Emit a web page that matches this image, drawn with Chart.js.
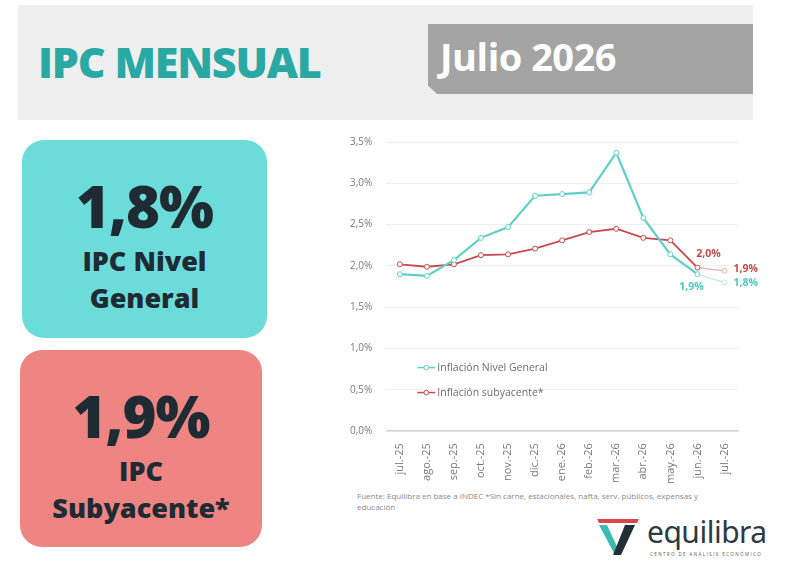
<!DOCTYPE html>
<html>
<head>
<meta charset="utf-8">
<script src="https://cdn.jsdelivr.net/npm/chart.js@4.4.1/dist/chart.umd.min.js"></script>
<style>
  body { margin:0; width:800px; height:575px; background:#fff; font-family:"Open Sans", sans-serif; position:relative; overflow:hidden; }
  .band { position:absolute; left:18px; top:5px; width:735px; height:115px; background:#efefef; }
  .title { position:absolute; left:38px; top:32px; font-size:43px; font-weight:800; color:#2aa9a4; letter-spacing:-1.2px; }
  .month { position:absolute; left:428px; top:24px; width:325px; height:70px; background:#a4a4a4;
           clip-path:polygon(0 0,100% 0,100% 100%,9px 100%,0 88%); }
  .month span { position:absolute; left:12px; top:6px; font-size:38px; font-weight:700; color:#fff; letter-spacing:-0.5px; }
  .card { position:absolute; border-radius:22px; text-align:center; color:#1e2b33; font-weight:800; }
  .card .big { font-size:58px; line-height:60px; letter-spacing:-1px; }
  .card .lbl { font-size:27px; line-height:37px; }
  .c1 { left:22px; top:140px; width:245px; height:198px; background:#6cdcdb; }
  .c2 { left:20px; top:350px; width:242px; height:197px; background:#ee8583; }
  .chartbox { position:absolute; left:336px; top:122px; width:434px; height:366px; }
  .note { position:absolute; left:357px; top:490px; width:410px; font-size:8px; line-height:11px; color:#8a8a8a; }
  .logo { position:absolute; left:595px; top:515px; }
  .logo .word { position:absolute; left:52px; top:-4px; font-size:30px; color:#2d3a42; font-family:"Noto Sans", sans-serif; letter-spacing:-0.5px; }
  .logo .sub { position:absolute; left:55px; top:36px; font-size:4.5px; letter-spacing:1.4px; color:#555; white-space:nowrap; }
</style>
</head>
<body>
<div class="band"></div>
<div class="title">IPC MENSUAL</div>
<div class="month"><span>Julio 2026</span></div>

<div class="card c1">
  <div class="big" style="margin-top:36px">1,8%</div>
  <div class="lbl" style="margin-top:6px">IPC Nivel<br>General</div>
</div>
<div class="card c2">
  <div class="big" style="margin-top:36px">1,9%</div>
  <div class="lbl" style="margin-top:6px">IPC<br>Subyacente*</div>
</div>

<div class="chartbox"><canvas id="ipc"></canvas></div>
<div class="note">Fuente: Equilibra en base a INDEC *Sin carne, estacionales, nafta, serv. públicos, expensas y<br>educación</div>

<div class="logo">
  <svg width="50" height="42" viewBox="0 0 50 42">
    <polygon points="2,4 44,4 42,8 4,8" fill="#d9474a"/>
    <polygon points="4,10 12,10 24,36 20,40" fill="#3dbab5"/>
    <polygon points="30,10 40,10 26,40 18,40" fill="#243038"/>
  </svg>
  <div class="word">equilibra</div>
  <div class="sub">CENTRO DE ANÁLISIS ECONÓMICO</div>
</div>

<script>
var months = ["jul.-25","ago.-25","sep.-25","oct.-25","nov.-25","dic.-25","ene.-26","feb.-26","mar.-26","abr.-26","may.-26","jun.-26","jul.-26"];
var general = [1.90, 1.88, 2.07, 2.34, 2.47, 2.85, 2.87, 2.89, 3.37, 2.58, 2.14, 1.90, 1.80];
var core    = [2.02, 1.99, 2.02, 2.13, 2.14, 2.21, 2.31, 2.41, 2.45, 2.34, 2.31, 1.98, 1.94];
var seriesNames = ["Inflación Nivel General", "Inflación subyacente*"];

var teal = "#5fd0c9", tealFade = "#b9e6e3";
var red = "#c94a4c", redFade = "#e6b0b1";

function pct(v) { return v.toFixed(1).replace(".", ",") + "%"; }

// labels on the last two points + legend drawn inside the plot
var extras = {
  id: "extras",
  afterDatasetsDraw: function(chart) {
    var ctx = chart.ctx;
    var g = chart.getDatasetMeta(0).data, c = chart.getDatasetMeta(1).data;
    var n = months.length;
    ctx.save();
    ctx.font = "bold 10.5px 'Open Sans'";
    ctx.textBaseline = "middle";
    ctx.fillStyle = red;
    ctx.textAlign = "center";
    ctx.fillText(pct(core[n - 2]), c[n - 2].x + 11, c[n - 2].y - 14);
    ctx.textAlign = "left";
    ctx.fillText(pct(core[n - 1]), c[n - 1].x + 9, c[n - 1].y - 2);
    ctx.fillStyle = "#4cc9c2";
    ctx.textAlign = "center";
    ctx.fillText(pct(general[n - 2]), g[n - 2].x - 6, g[n - 2].y + 13);
    ctx.textAlign = "left";
    ctx.fillText(pct(general[n - 1]), g[n - 1].x + 9, g[n - 1].y + 1);

    // legend
    var lx = chart.chartArea.left + 31, ly = chart.scales.y.getPixelForValue(0.77);
    var cols = [teal, red];
    ctx.font = "10.5px 'Open Sans'";
    for (var i = 0; i < 2; i++) {
      var yy = ly + i * 25;
      ctx.strokeStyle = cols[i];
      ctx.lineWidth = 1.5;
      ctx.beginPath(); ctx.moveTo(lx, yy); ctx.lineTo(lx + 18, yy); ctx.stroke();
      ctx.beginPath(); ctx.arc(lx + 9, yy, 2.3, 0, Math.PI * 2);
      ctx.fillStyle = "#fff"; ctx.fill(); ctx.lineWidth = 1; ctx.stroke();
      ctx.fillStyle = "#6d6d6d";
      ctx.fillText(seriesNames[i], lx + 20, yy);
    }
    ctx.restore();
  }
};

function ds(label, data, col, fade, w) {
  return {
    label: label,
    data: data,
    borderColor: col,
    borderWidth: w,
    pointRadius: 2.5,
    pointBorderWidth: 1,
    pointBackgroundColor: "#fff",
    pointBorderColor: data.map(function(v, i) { return i === data.length - 1 ? fade : col; }),
    segment: {
      borderColor: function(s) { return s.p1DataIndex === data.length - 1 ? fade : col; },
      borderWidth: function(s) { return s.p1DataIndex === data.length - 1 ? 1.2 : w; }
    },
    tension: 0
  };
}

new Chart(document.getElementById("ipc"), {
  type: "line",
  data: {
    labels: months,
    datasets: [
      ds(seriesNames[0], general, teal, tealFade, 2.2),
      ds(seriesNames[1], core, red, redFade, 1.8)
    ]
  },
  options: {
    responsive: true,
    maintainAspectRatio: false,
    animation: false,
    layout: { padding: { top: 0, right: 32 } },
    plugins: { legend: { display: false }, tooltip: { enabled: false } },
    scales: {
      x: {
        offset: true,
        grid: { display: false },
        border: { color: "#d4d4d4", width: 1.5 },
        ticks: { minRotation: 90, maxRotation: 90, color: "#7a7a7a", font: { size: 11, family: "'Open Sans'" }, padding: 4 }
      },
      y: {
        min: 0, max: 3.5,
        ticks: { stepSize: 0.5, color: "#7a7a7a", font: { size: 10, family: "'Open Sans'" }, padding: 14,
                 callback: function(v) { return pct(v); } },
        grid: { color: "#efefef", drawTicks: false },
        border: { display: false }
      }
    }
  },
  plugins: [extras]
});
</script>
</body>
</html>
